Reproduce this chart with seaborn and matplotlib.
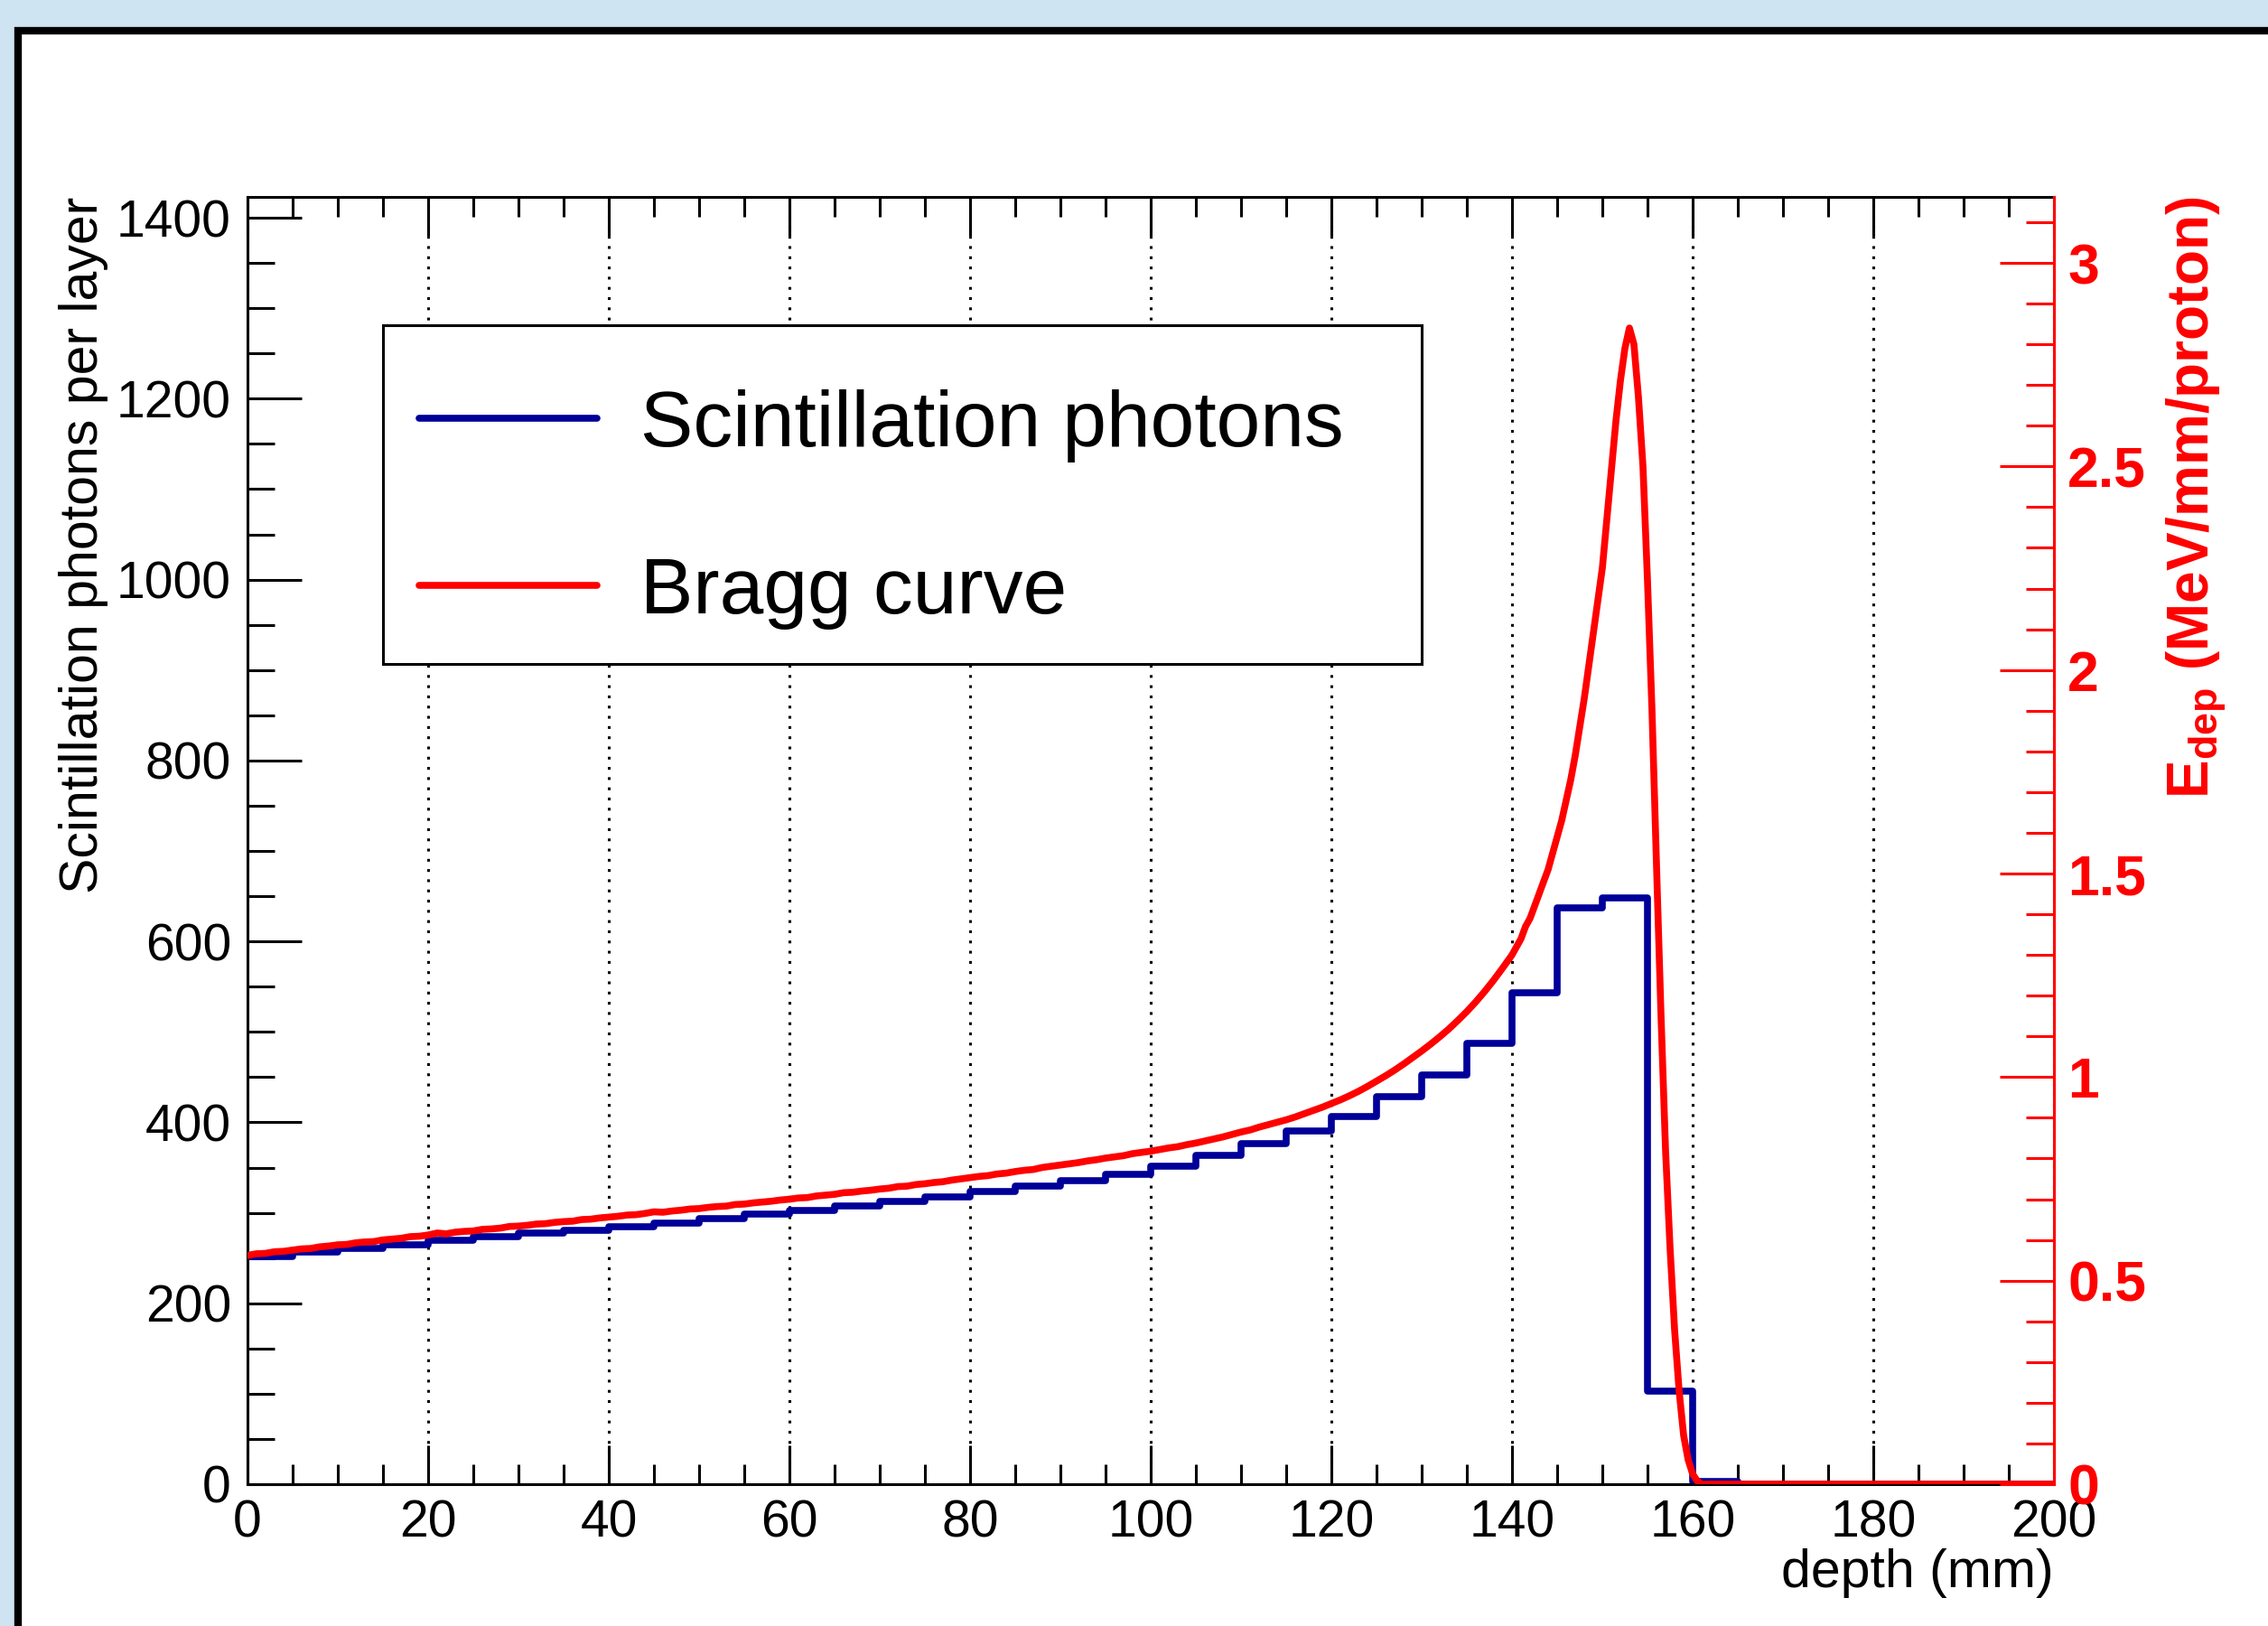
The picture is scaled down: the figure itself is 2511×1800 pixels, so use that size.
import matplotlib
matplotlib.use("Agg")
import matplotlib.pyplot as plt
import seaborn as sns
import numpy as np
from matplotlib.patches import Rectangle
from matplotlib.lines import Line2D
from matplotlib.ticker import MultipleLocator

# ---- data ----
# scintillation photons per 5 mm layer
layer_edges = list(range(0, 205, 5))
photons = [252, 257, 261, 265, 270, 274, 278, 281, 285, 289,
           294, 299, 303, 308, 313, 318, 324, 330, 336, 343,
           352, 363, 376, 390, 406, 428, 452, 487, 543, 637,
           648, 103, 3, 0, 0, 0, 0, 0, 0, 0]

# Bragg curve, MeV/mm/proton
bragg_depth = list(range(0, 140)) + [140 + 0.5 * i for i in range(43)] + list(range(162, 201))
bragg_edep = [
    0.562, 0.566, 0.567, 0.571, 0.572, 0.575, 0.578, 0.579, 0.583, 0.585,
    0.588, 0.589, 0.593, 0.595, 0.596, 0.600, 0.602, 0.604, 0.608, 0.609,
    0.612, 0.617, 0.615, 0.619, 0.621, 0.622, 0.626, 0.627, 0.629, 0.633,
    0.634, 0.636, 0.639, 0.640, 0.643, 0.645, 0.646, 0.650, 0.651, 0.654,
    0.656, 0.658, 0.661, 0.662, 0.665, 0.669, 0.668, 0.671, 0.673, 0.676,
    0.677, 0.680, 0.682, 0.683, 0.687, 0.688, 0.691, 0.693, 0.695, 0.698,
    0.700, 0.703, 0.704, 0.708, 0.710, 0.712, 0.716, 0.717, 0.720, 0.722,
    0.725, 0.727, 0.731, 0.732, 0.736, 0.738, 0.741, 0.743, 0.747, 0.750,
    0.753, 0.756, 0.758, 0.762, 0.764, 0.768, 0.771, 0.773, 0.778, 0.781,
    0.784, 0.787, 0.790, 0.794, 0.797, 0.801, 0.804, 0.807, 0.812, 0.815,
    0.818, 0.822, 0.826, 0.829, 0.834, 0.838, 0.843, 0.848, 0.853, 0.859,
    0.865, 0.870, 0.877, 0.883, 0.889, 0.895, 0.902, 0.910, 0.918, 0.926,
    0.935, 0.944, 0.954, 0.965, 0.977, 0.990, 1.003, 1.017, 1.032, 1.048,
    1.064, 1.081, 1.099, 1.118, 1.139, 1.161, 1.185, 1.211, 1.239, 1.269,
    # 140 .. 161 mm in 0.5 mm steps
    1.30, 1.32, 1.34, 1.37, 1.39, 1.42, 1.45, 1.48, 1.51, 1.55,
    1.59, 1.63, 1.68, 1.73, 1.79, 1.86, 1.93, 2.01, 2.09, 2.17,
    2.25, 2.37, 2.49, 2.61, 2.71, 2.79, 2.84, 2.80, 2.67, 2.50,
    2.22, 1.90, 1.52, 1.15, 0.82, 0.58, 0.38, 0.23, 0.12, 0.06,
    0.025, 0.008, 0.0,
] + [0.0] * 39

edep_ticks = [0, 0.5, 1, 1.5, 2, 2.5, 3]
edep_ticklabels = ["0", "0.5", "1", "1.5", "2", "2.5", "3"]
legend_labels = ["Scintillation photons", "Bragg curve"]

BLUE = "#000099"
RED = "#ff0000"
LW = 5.5

sns.set_theme(style="white")
plt.rcParams["font.family"] = ["Liberation Sans", "DejaVu Sans"]
plt.rcParams["mathtext.fontset"] = "custom"
plt.rcParams["mathtext.rm"] = "Liberation Sans"
plt.rcParams["mathtext.bf"] = "Liberation Sans:bold"
plt.rcParams["text.color"] = "black"
plt.rcParams["axes.labelcolor"] = "black"
plt.rcParams["xtick.color"] = "black"
plt.rcParams["ytick.color"] = "black"

fig = plt.figure(figsize=(25.11, 18), dpi=100, facecolor="#cfe4f2")
# ROOT canvas frame
fig.add_artist(Rectangle((20 / 2511, -0.1), 1.2, 0.1 + (1800 - 34) / 1800,
                         transform=fig.transFigure, facecolor="white",
                         edgecolor="black", linewidth=6, zorder=-1))

ax = fig.add_axes([274 / 2511, 157 / 1800, 2000 / 2511, 1425 / 1800])

# blue histogram
centers = [(a + b) / 2 for a, b in zip(layer_edges[:-1], layer_edges[1:])]
sns.histplot(x=centers, weights=photons, bins=layer_edges, element="step",
             fill=False, color=BLUE, linewidth=LW, ax=ax)

ax.set_xlim(0, 200)
ax.set_ylim(0, 1423)
ax.xaxis.set_major_locator(MultipleLocator(20))
ax.xaxis.set_minor_locator(MultipleLocator(5))
ax.yaxis.set_major_locator(MultipleLocator(200))
ax.yaxis.set_minor_locator(MultipleLocator(50))
ax.tick_params(axis="x", which="both", direction="in", top=True, bottom=True,
               width=2.2, color="black", labelcolor="black", labelsize=41, pad=12)
ax.tick_params(axis="x", which="major", length=31)
ax.tick_params(axis="x", which="minor", length=15.5)
ax.tick_params(axis="y", which="both", direction="in", left=True, right=False,
               width=2.2, color="black", labelcolor="black", labelsize=41, pad=13)
ax.tick_params(axis="y", which="major", length=43)
ax.tick_params(axis="y", which="minor", length=21.5)
ax.xaxis.grid(True, which="major", color="black", linestyle=(0, (1, 2.7)), linewidth=2.2)
ax.yaxis.grid(False)
for side in ["left", "bottom", "top"]:
    ax.spines[side].set_color("black")
    ax.spines[side].set_linewidth(2.2)
ax.spines["right"].set_visible(False)

ax.set_xlabel("depth (mm)", fontsize=42.5, color="black", loc="right")
ax.xaxis.set_label_coords(1.0, -0.050)
ax.set_ylabel("Scintillation photons per layer", fontsize=42.5, color="black", loc="top")
ax.yaxis.set_label_coords(-0.077, 1.0)

# red Bragg curve on the right axis
ax2 = ax.twinx()
sns.lineplot(x=bragg_depth, y=bragg_edep, ax=ax2, color=RED, linewidth=LW,
             estimator=None, sort=False)
ax2.set_xlim(0, 200)
ax2.set_ylim(0, 3.162)
ax2.set_yticks(edep_ticks)
ax2.set_yticklabels(edep_ticklabels, fontweight="bold", color=RED, fontsize=45)
ax2.yaxis.set_minor_locator(MultipleLocator(0.1))
ax2.tick_params(axis="y", which="both", direction="in", right=True, left=False,
                width=2.2, color=RED, pad=11)
ax2.tick_params(axis="y", which="major", length=43)
ax2.tick_params(axis="y", which="minor", length=22)
for side in ["left", "bottom", "top"]:
    ax2.spines[side].set_visible(False)
ax2.spines["right"].set_color(RED)
ax2.spines["right"].set_linewidth(2.2)
ax2.grid(False)
ax2.set_ylabel(r"$\mathbf{E}_{\mathbf{dep}}$ (MeV/mm/proton)", fontsize=46,
               fontweight="bold", color=RED, loc="top")
ax2.yaxis.set_label_coords(1.0615, 1.0)

# legend box
ax2.add_patch(Rectangle((0.075, 0.6372), 0.575, 0.2632, transform=ax2.transAxes,
                        facecolor="white", edgecolor="black", linewidth=2.2, zorder=5))
handles = [Line2D([], [], color=BLUE, linewidth=LW),
           Line2D([], [], color=RED, linewidth=LW)]
leg = ax2.legend(handles=handles, labels=legend_labels, loc="center left",
                 bbox_to_anchor=(0.095, 0.7575), frameon=False, fontsize=63,
                 handlelength=2.25, handletextpad=0.55, labelspacing=1.19,
                 borderpad=0, borderaxespad=0)
for t in leg.get_texts():
    t.set_color("black")
leg.set_zorder(6)

fig.savefig("out.png", dpi=100, facecolor=fig.get_facecolor())
